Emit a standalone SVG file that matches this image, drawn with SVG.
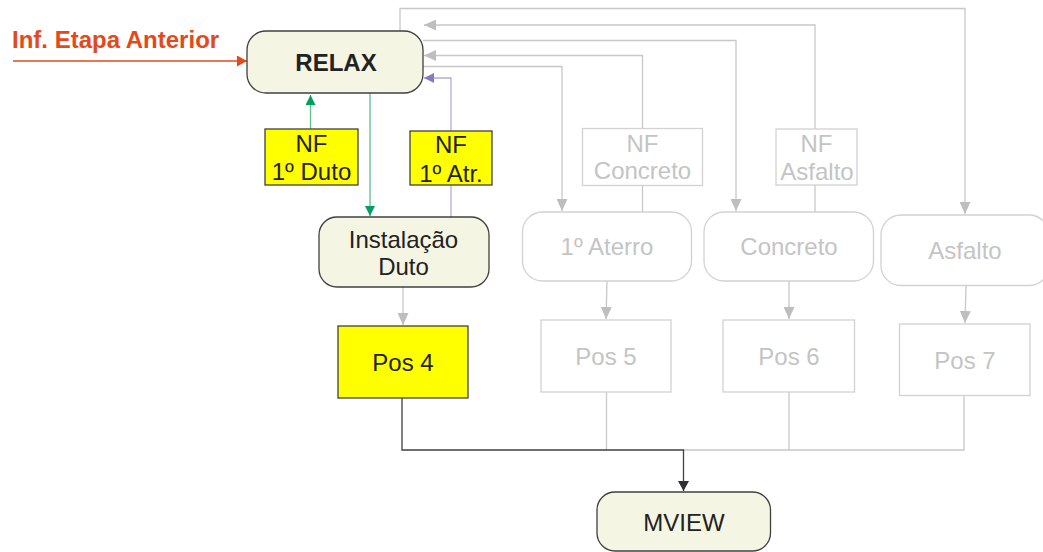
<svg xmlns="http://www.w3.org/2000/svg" width="1043" height="552" viewBox="0 0 1043 552">
<defs>
<style>
text{font-family:"Liberation Sans",Arial,sans-serif;font-size:24px;text-anchor:middle}
.dark{fill:#222}
.pale{fill:#C4C4C4}
.cream{fill:#F5F5E4;stroke:#404040;stroke-width:1.3}
.yellow{fill:#FFFF00;stroke:#404040;stroke-width:1.3}
.ghost{fill:#FFFFFF;stroke:#D2D2D2;stroke-width:1.3}
.gl{fill:none;stroke:#C8C8C8;stroke-width:1.3}
.dl{fill:none;stroke:#404040;stroke-width:1.3}
</style>
<marker id="ag" markerUnits="userSpaceOnUse" markerWidth="12" markerHeight="11" refX="12" refY="5.5" orient="auto"><path d="M0,0 L12,5.5 L0,11 z" fill="#BEBEBE"/></marker>
<marker id="agr" markerUnits="userSpaceOnUse" markerWidth="10" markerHeight="10" refX="10" refY="5" orient="auto"><path d="M0,0 L10,5 L0,10 z" fill="#00A060"/></marker>
<marker id="ap" markerUnits="userSpaceOnUse" markerWidth="10" markerHeight="10" refX="10" refY="5" orient="auto"><path d="M0,0 L10,5 L0,10 z" fill="#8878C0"/></marker>
<marker id="ar" markerUnits="userSpaceOnUse" markerWidth="10" markerHeight="11" refX="10" refY="5.5" orient="auto"><path d="M0,0 L10,5.5 L0,11 z" fill="#E4491A"/></marker>
<marker id="ad" markerUnits="userSpaceOnUse" markerWidth="10" markerHeight="11" refX="10" refY="5.5" orient="auto"><path d="M0,0 L10,5.5 L0,11 z" fill="#303030"/></marker>
</defs>
<rect width="1043" height="552" fill="#FFFFFF"/>

<g id="connectors">
<path class="gl" d="M400,31 V8.5 H965 V214" marker-end="url(#ag)"/>
<path class="gl" d="M815,212 V25 H424" marker-end="url(#ag)"/>
<path class="gl" d="M423,40.5 H736 V211" marker-end="url(#ag)"/>
<path class="gl" d="M642.5,212 V55.5 H424" marker-end="url(#ag)"/>
<path class="gl" d="M423,66.5 H562 V211" marker-end="url(#ag)"/>
<path fill="none" stroke="#B4ACDA" stroke-width="1.3" d="M451,217 V78 H424" marker-end="url(#ap)"/>
<path fill="none" stroke="#5CBF8A" stroke-width="1.3" d="M310.5,129 V95" marker-end="url(#agr)"/>
<path fill="none" stroke="#5CBF8A" stroke-width="1.3" d="M370,93 V216" marker-end="url(#agr)"/>
<path fill="none" stroke="#E4491A" stroke-width="1.3" d="M13,61 H247" marker-end="url(#ar)"/>
<path class="gl" d="M403,287 V325" marker-end="url(#ag)"/>
<path class="gl" d="M607,281 L606,319" marker-end="url(#ag)"/>
<path class="gl" d="M789,281 V319" marker-end="url(#ag)"/>
<path class="gl" d="M966,285.5 L965,323" marker-end="url(#ag)"/>
<path class="gl" d="M606.5,392 V450 M789,392 V450 M964,396 V450 H683.5"/>
<path class="dl" d="M402,398 V450 H683.5 V491" marker-end="url(#ad)"/>
</g>

<text x="12" y="48" style="text-anchor:start;font-weight:bold;fill:#E4491A">Inf. Etapa Anterior</text>

<g id="relax">
<rect class="cream" x="247" y="31" width="176" height="62" rx="19"/>
<text class="dark" x="336" y="71" style="font-weight:bold">RELAX</text>
</g>
<g id="nf-duto">
<rect class="yellow" x="265" y="129" width="93" height="56"/>
<text class="dark" x="311.5" y="152">NF</text>
<text class="dark" x="311.5" y="180">1º Duto</text>
</g>
<g id="nf-atr">
<rect class="yellow" x="410" y="131" width="82" height="54"/>
<text class="dark" x="451" y="153">NF</text>
<text class="dark" x="451" y="182">1º Atr.</text>
</g>
<g id="nf-concreto">
<rect class="ghost" x="582.5" y="128.5" width="120" height="57"/>
<text class="pale" x="642.5" y="152">NF</text>
<text class="pale" x="642.5" y="179">Concreto</text>
</g>
<g id="nf-asfalto">
<rect class="ghost" x="776" y="129" width="81" height="56"/>
<text class="pale" x="816.5" y="152">NF</text>
<text class="pale" x="817" y="180">Asfalto</text>
</g>
<g id="instalacao">
<rect class="cream" x="319" y="217" width="170" height="70" rx="18"/>
<text class="dark" x="403.5" y="248">Instalação</text>
<text class="dark" x="403.5" y="275">Duto</text>
</g>
<g id="aterro">
<rect class="ghost" x="522.5" y="212" width="169" height="69" rx="20"/>
<text class="pale" x="607" y="255">1º Aterro</text>
</g>
<g id="concreto">
<rect class="ghost" x="704" y="212" width="169.5" height="69" rx="20"/>
<text class="pale" x="789" y="255">Concreto</text>
</g>
<g id="asfalto">
<rect class="ghost" x="881" y="215" width="168" height="70.5" rx="20"/>
<text class="pale" x="965" y="259">Asfalto</text>
</g>
<g id="pos4">
<rect class="yellow" x="338" y="326" width="130" height="72"/>
<text class="dark" x="403" y="371">Pos 4</text>
</g>
<g id="pos5">
<rect class="ghost" x="541" y="320" width="130" height="72"/>
<text class="pale" x="606" y="365">Pos 5</text>
</g>
<g id="pos6">
<rect class="ghost" x="723" y="320" width="131.5" height="72"/>
<text class="pale" x="789" y="365">Pos 6</text>
</g>
<g id="pos7">
<rect class="ghost" x="899.5" y="324" width="130.5" height="71.5"/>
<text class="pale" x="965" y="369">Pos 7</text>
</g>
<g id="mview">
<rect class="cream" x="597" y="492" width="173.5" height="59" rx="18"/>
<text class="dark" x="684" y="531">MVIEW</text>
</g>
</svg>
